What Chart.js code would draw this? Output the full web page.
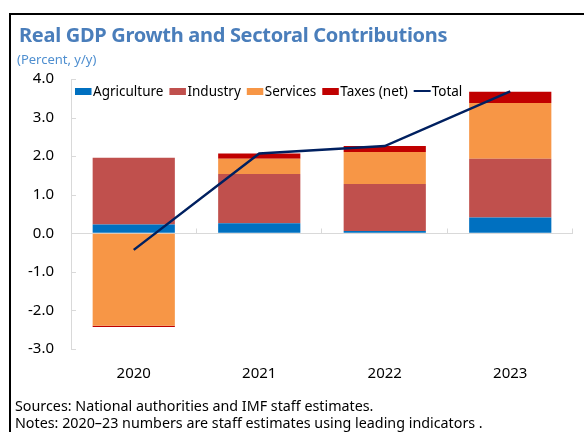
<!DOCTYPE html>
<html>
<head>
<meta charset="utf-8">
<script src="https://cdn.jsdelivr.net/npm/chart.js@4"></script>
<style>
  html, body { margin: 0; padding: 0; background: #fff; }
  #wrap { position: relative; width: 584px; height: 432px; overflow: hidden; background: #fff; }
  #frame { position: absolute; left: 9px; top: 13px; width: 700px; height: 600px;
           border-left: 2px solid #000; border-top: 2px solid #000; box-sizing: border-box; }
  #chart { position: absolute; left: 0; top: 0; }
  .txt { position: absolute; white-space: nowrap; line-height: 1; font-family: "Noto Sans", sans-serif; }
  #title { left: 19px; top: 25px; font-size: 20px; font-weight: 700; color: #4a7ebb; letter-spacing: -0.3px; }
  #subtitle { left: 17px; top: 52.5px; font-size: 13px; color: #4f8fd0; }
  #src { left: 15px; top: 398.5px; font-size: 14.3px; color: #000; }
  #notes { left: 15px; top: 415.5px; font-size: 14.3px; color: #000; }
</style>
</head>
<body>
<div id="wrap">
  <div id="frame"></div>
  <canvas id="chart" width="584" height="432"></canvas>
  <div class="txt" id="title">Real GDP Growth and Sectoral Contributions</div>
  <div class="txt" id="subtitle">(Percent, y/y)</div>
  <div class="txt" id="src">Sources: National authorities and IMF staff estimates.</div>
  <div class="txt" id="notes">Notes: 2020–23 numbers are staff estimates using leading indicators .</div>
</div>
<script>
// Years on the category axis
const categories = ['2020', '2021', '2022', '2023'];

// Contributions to real GDP growth, percentage points
const agriculture = [0.23, 0.26, 0.06, 0.41];
const industry    = [1.73, 1.28, 1.22, 1.52];
const services    = [-2.40, 0.39, 0.83, 1.45];
const taxes       = [-0.03, 0.14, 0.15, 0.29];

// Real GDP growth, percent
const total = [-0.43, 2.07, 2.26, 3.68];

// Value axis range and step
const yMin = -3;
const yMax = 4;
const yStep = 1;

const FONT = '"Noto Sans", sans-serif';
const AXIS_GRAY = '#d9d9d9';

// Small inward tick marks on the value axis and category dividers on the zero line
const axisMarks = {
  id: 'axisMarks',
  afterDatasetsDraw(chart) {
    const { ctx } = chart;
    const x = chart.scales.x, y = chart.scales.y;
    ctx.save();
    ctx.strokeStyle = AXIS_GRAY;
    ctx.lineWidth = 1;
    ctx.beginPath();
    y.ticks.forEach(t => {
      const py = Math.round(y.getPixelForValue(t.value)) + 0.5;
      ctx.moveTo(x.left, py);
      ctx.lineTo(x.left + 5, py);
    });
    const y0 = Math.round(y.getPixelForValue(0)) + 0.5;
    const n = categories.length;
    const step = (x.right - x.left) / n;
    for (let i = 1; i <= n; i++) {
      const px = Math.round(x.left + i * step) - 0.5;
      ctx.moveTo(px, y0);
      ctx.lineTo(px, y0 - 5);
    }
    ctx.stroke();
    ctx.restore();
  }
};

// Single-row legend drawn inside the plot area
const innerLegend = {
  id: 'innerLegend',
  afterDraw(chart) {
    const { ctx } = chart;
    const area = chart.chartArea;
    ctx.save();
    ctx.font = '13.5px ' + FONT;
    ctx.textBaseline = 'alphabetic';
    let cx = area.left + 4;
    const baseline = area.top + 17;
    chart.data.datasets.forEach(ds => {
      if (ds.type === 'line') {
        ctx.strokeStyle = ds.borderColor;
        ctx.lineWidth = 2;
        ctx.beginPath();
        ctx.moveTo(cx, baseline - 5);
        ctx.lineTo(cx + 17, baseline - 5);
        ctx.stroke();
      } else {
        ctx.fillStyle = ds.backgroundColor;
        ctx.fillRect(cx, baseline - 8, 16.5, 7);
      }
      cx += 18;
      ctx.fillStyle = '#000';
      ctx.fillText(ds.label, cx, baseline);
      cx += ctx.measureText(ds.label).width + 6;
    });
    ctx.restore();
  }
};

const barCommon = { type: 'bar', stack: 'sectors', order: 2, borderWidth: 0,
                    categoryPercentage: 1.0, barPercentage: 0.655 };

new Chart(document.getElementById('chart'), {
  type: 'bar',
  data: {
    labels: categories,
    datasets: [
      { ...barCommon, label: 'Agriculture', data: agriculture, backgroundColor: '#0070c0' },
      { ...barCommon, label: 'Industry', data: industry, backgroundColor: '#c0504d' },
      { ...barCommon, label: 'Services', data: services, backgroundColor: '#f79646' },
      { ...barCommon, label: 'Taxes (net)', data: taxes, backgroundColor: '#c00000' },
      { type: 'line', label: 'Total', data: total, stack: 'total', order: 1,
        borderColor: '#002060', backgroundColor: '#002060', borderWidth: 2.5,
        pointRadius: 0, tension: 0, fill: false }
    ]
  },
  options: {
    responsive: false,
    animation: false,
    devicePixelRatio: 1,
    layout: { padding: { top: 79, right: 11, bottom: 43, left: 0 } },
    plugins: {
      legend: { display: false },
      title: { display: false },
      tooltip: { enabled: false }
    },
    scales: {
      x: {
        stacked: true,
        grid: { display: false },
        border: { display: false },
        ticks: { color: '#000', font: { family: FONT, size: 15 }, padding: 8, maxRotation: 0 },
        afterFit(scale) { scale.height = 40; }
      },
      y: {
        stacked: true,
        min: yMin,
        max: yMax,
        border: { display: true, color: AXIS_GRAY, width: 1 },
        grid: {
          drawTicks: false,
          color: ctx => (ctx.tick && ctx.tick.value === 0 ? AXIS_GRAY : 'rgba(0,0,0,0)'),
          lineWidth: 1
        },
        ticks: {
          stepSize: yStep,
          padding: 17,
          color: '#000',
          font: { family: FONT, size: 15 },
          callback: v => Number(v).toFixed(1)
        },
        afterFit(scale) { scale.width = 71; }
      }
    }
  },
  plugins: [axisMarks, innerLegend]
});
</script>
</body>
</html>
